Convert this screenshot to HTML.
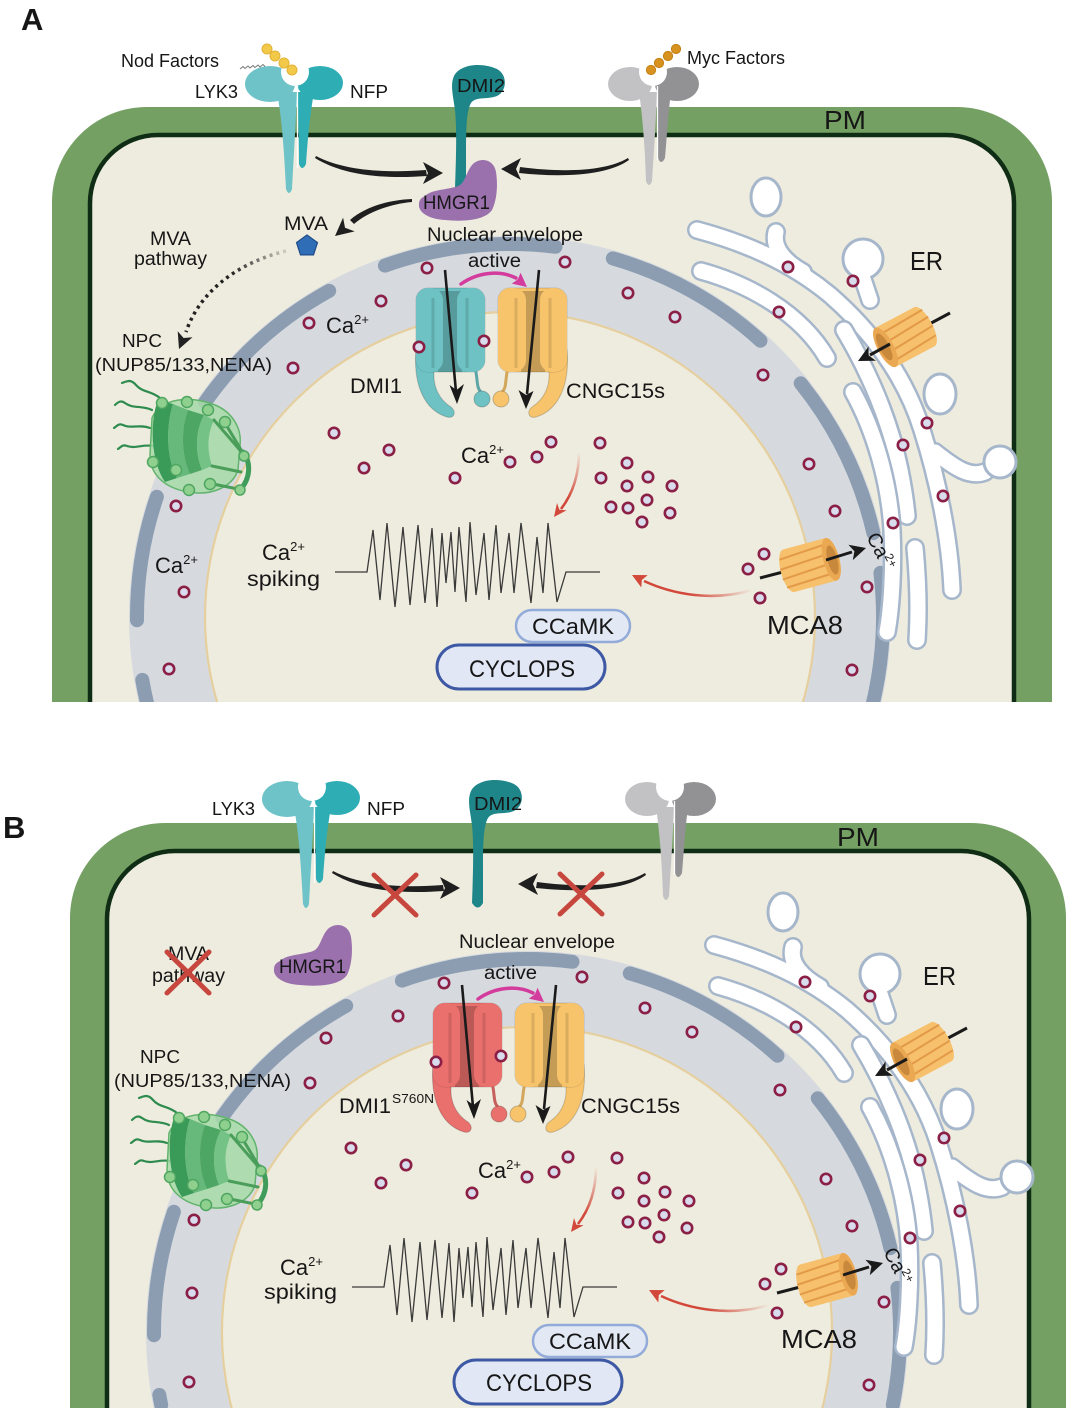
<!DOCTYPE html>
<html><head><meta charset="utf-8"><style>
html,body{margin:0;padding:0;background:#fff;width:1069px;height:1412px;overflow:hidden;}
svg{display:block;}
text{font-family:"Liberation Sans",Arial,sans-serif;fill:#161616;}
</style></head><body>
<svg width="1069" height="1412" viewBox="0 0 1069 1412" xmlns="http://www.w3.org/2000/svg" xmlns:xlink="http://www.w3.org/1999/xlink">
<defs>
 <clipPath id="clipA"><rect x="0" y="0" width="1069" height="702"/></clipPath>
 <clipPath id="clipB"><rect x="0" y="760" width="1069" height="648"/></clipPath>
 <linearGradient id="gr1" gradientUnits="userSpaceOnUse" x1="579" y1="452" x2="566" y2="498"><stop offset="0" stop-color="#d2483a" stop-opacity="0"/><stop offset="1" stop-color="#d2483a"/></linearGradient>
 <linearGradient id="gr2" gradientUnits="userSpaceOnUse" x1="752" y1="590" x2="690" y2="594"><stop offset="0" stop-color="#d2483a" stop-opacity="0"/><stop offset="1" stop-color="#d2483a"/></linearGradient>
 <linearGradient id="gdot" gradientUnits="userSpaceOnUse" x1="290" y1="250" x2="230" y2="268"><stop offset="0" stop-color="#222" stop-opacity="0.1"/><stop offset="1" stop-color="#222"/></linearGradient>

 <g id="chan">
  <path d="M416,350 C413,384 424,410 447,417 C454,419 457,412 451,407 C440,400 433,388 434,372 Z" fill="currentColor" stroke="#000" stroke-opacity=".18" stroke-width="1"/>
  <path d="M475,368 C478,378 476,388 481,392" fill="none" stroke="currentColor" stroke-width="3"/>
  <path d="M475,368 C478,378 476,388 481,392" fill="none" stroke="#000" stroke-opacity=".15" stroke-width="3"/>
  <circle cx="482" cy="399" r="8" fill="currentColor" stroke="#000" stroke-opacity=".2" stroke-width="1"/>
  <rect x="416" y="288" width="69" height="84" rx="12" fill="currentColor" stroke="#000" stroke-opacity=".15" stroke-width="1"/>
  <rect x="438" y="291" width="24" height="81" fill="#000" fill-opacity=".2"/>
  <rect x="416" y="288" width="27" height="84" rx="12" fill="currentColor"/>
  <rect x="457" y="288" width="28" height="84" rx="12" fill="currentColor"/>
  <path d="M433,298 V368 M467,298 V368" stroke="#000" stroke-opacity=".12" stroke-width="3"/>
 </g>

 <g id="mca">
  <path d="M-22,-22 H22 A8,22 0 0 1 22,22 H-22 A8,22 0 0 1 -22,-22 Z" fill="#f6c06c"/>
  <g stroke="#e39a48" stroke-width="2" fill="none">
   <path d="M-28,-13 L18,-16"/><path d="M-30,-3 L18,-6"/><path d="M-30,7 L18,4"/><path d="M-28,16 L18,14"/>
  </g>
  <ellipse cx="22" cy="0" rx="8" ry="22" fill="#eaa853"/>
  <ellipse cx="23" cy="1" rx="5" ry="15" fill="#c9893c"/>
 </g>

 <g id="nucA">
  <circle cx="510" cy="617" r="381" fill="#d6dadf"/>
  <circle cx="510" cy="617" r="305" fill="#eeecde" stroke="#e6cf9e" stroke-width="2.2"/>
  <g fill="none" stroke="#8c9db2" stroke-width="14" stroke-linecap="round">
   <path d="M384.9,265.6 A373,373 0 0 1 555.5,246.8"/>
   <path d="M612.8,258.4 A373,373 0 0 1 760.5,340.7"/>
   <path d="M800.7,383.3 A373,373 0 0 1 873.4,533.1"/>
   <path d="M880.4,572.8 A373,373 0 0 1 833.0,803.5"/>
   <path d="M205.2,402.0 A373,373 0 0 1 329.2,290.8"/>
   <path d="M137.0,620.2 A373,373 0 0 1 156.9,496.8"/>
   <path d="M246.3,880.7 A373,373 0 0 1 142.3,679.9"/>
  </g>
 </g>

 <g id="nucB">
  <path d="M137.5,697 A381,381 0 1 1 882.5,697 Z" fill="#d6dadf"/>
  <path d="M215.7,697 A305,305 0 1 1 804.3,697 Z" fill="#eeecde"/>
  <path d="M215.7,697 A305,305 0 1 1 804.3,697" fill="none" stroke="#e6cf9e" stroke-width="2.2"/>
  <g fill="none" stroke="#8c9db2" stroke-width="14" stroke-linecap="round">
   <path d="M384.9,265.6 A373,373 0 0 1 555.5,246.8"/>
   <path d="M612.8,258.4 A373,373 0 0 1 760.5,340.7"/>
   <path d="M800.7,383.3 A373,373 0 0 1 873.4,533.1"/>
   <path d="M880.4,572.8 A373,373 0 0 1 875.8,690"/>
   <path d="M205.2,402.0 A373,373 0 0 1 329.2,290.8"/>
   <path d="M137.0,620.2 A373,373 0 0 1 156.9,496.8"/>
   <path d="M144.2,690 A373,373 0 0 1 142.3,679.9"/>
  </g>
 </g>

 <g id="baseShared">
  <!-- ER -->
  <g fill="none" stroke-linecap="round" stroke-linejoin="round">
   <g stroke="#a6b6cb" stroke-width="20">
    <path d="M697,230 C745,243 790,262 830,295 C870,330 905,375 922,430 C938,480 950,540 952,590"/>
    <path d="M776,232 C772,248 785,262 803,272"/>
    <path d="M860,270 L870,300"/>
    <path d="M935,452 C955,468 970,478 985,472"/>
   </g>
   <circle cx="863" cy="259" r="20" fill="#fff" stroke="#a6b6cb" stroke-width="3"/>
   <g stroke="#fff" stroke-width="15">
    <path d="M697,230 C745,243 790,262 830,295 C870,330 905,375 922,430 C938,480 950,540 952,590"/>
    <path d="M776,232 C772,248 785,262 803,272"/>
    <path d="M860,270 L870,300"/>
    <path d="M935,452 C955,468 970,478 985,472"/>
   </g>
   <circle cx="863" cy="259" r="18" fill="#fff"/>
   <path d="M701,271 C748,284 800,312 827,358" stroke="#a6b6cb" stroke-width="20"/>
   <path d="M701,271 C748,284 800,312 827,358" stroke="#fff" stroke-width="15"/>
   <path d="M844,330 C868,370 890,420 900,470 C905,495 906,505 907,516" stroke="#a6b6cb" stroke-width="20"/>
   <path d="M844,330 C868,370 890,420 900,470 C905,495 906,505 907,516" stroke="#fff" stroke-width="15"/>
   <path d="M853,392 C874,430 889,480 892,530 C894,570 891,610 887,632" stroke="#a6b6cb" stroke-width="20"/>
   <path d="M853,392 C874,430 889,480 892,530 C894,570 891,610 887,632" stroke="#fff" stroke-width="15"/>
   <path d="M915,548 C918,580 919,610 917,640" stroke="#a6b6cb" stroke-width="20"/>
   <path d="M915,548 C918,580 919,610 917,640" stroke="#fff" stroke-width="15"/>
  </g>
  <ellipse cx="766" cy="197" rx="15" ry="19" fill="#fff" stroke="#a6b6cb" stroke-width="3"/>
  <ellipse cx="940" cy="394" rx="16" ry="20" fill="#fff" stroke="#a6b6cb" stroke-width="3"/>
  <circle cx="1000" cy="462" r="16" fill="#fff" stroke="#a6b6cb" stroke-width="3"/>

  <!-- NPC -->
  <g fill="none" stroke="#2e8b4e" stroke-width="2.2" stroke-linecap="round">
   <path d="M160,398 C150,390 143,393 136,385 C131,379 127,381 122,383"/>
   <path d="M152,410 C141,405 133,409 125,403 C121,400 118,402 115,405"/>
   <path d="M150,428 C139,424 131,429 123,425 C119,423 117,426 114,428"/>
   <path d="M153,446 C143,444 135,449 127,446 C123,444 121,447 118,449"/>
  </g>
  <path d="M152,418 C160,398 190,395 215,405 C232,412 242,428 240,445 L238,470 C232,488 210,496 188,492 C165,488 150,475 150,455 Z" fill="#a8daa8" fill-opacity=".85" stroke="#62b46c" stroke-width="1.5"/>
  <path d="M158,400 C150,420 150,460 165,482 L177,478 C166,458 166,425 173,404 Z" fill="#3a9a58"/>
  <path d="M173,404 C166,425 166,458 177,478 L190,474 C181,455 181,428 188,410 Z" fill="#66b97a"/>
  <path d="M188,410 C181,428 181,455 190,474 L202,470 C195,452 195,432 204,415 Z" fill="#4ea664"/>
  <path d="M204,415 C195,432 195,452 202,470 L212,466 C207,450 207,435 214,420 Z" fill="#74c285"/>
  <g stroke="#4a9e5a" stroke-width="3" stroke-linecap="round">
   <line x1="214" y1="420" x2="245" y2="456"/><line x1="225" y1="423" x2="246" y2="458"/>
   <line x1="212" y1="466" x2="241" y2="472"/><line x1="208" y1="483" x2="238" y2="489"/>
  </g>
  <path d="M243,452 C251,462 251,478 240,490" fill="none" stroke="#3f9c5a" stroke-width="5" stroke-linecap="round"/>
  <g fill="#8fd08f" stroke="#4fa660" stroke-width="1.5">
   <circle cx="162" cy="403" r="5.5"/><circle cx="187" cy="402" r="5.5"/><circle cx="208" cy="410" r="5.5"/><circle cx="225" cy="422" r="5.5"/>
   <circle cx="153" cy="462" r="5.5"/><circle cx="176" cy="470" r="5.5"/><circle cx="189" cy="490" r="5.5"/><circle cx="210" cy="484" r="5.5"/>
   <circle cx="244" cy="456" r="5"/><circle cx="240" cy="490" r="5"/>
  </g>

  <polyline fill="none" stroke="#3a3a3a" stroke-width="1.3" stroke-linejoin="miter" points="335,572 367,572 373,530 380,600 387,523 395,607 403,527 410,605 418,525 425,603 432,528 437,607 442,533 446,583 451,532 455,592 459,527 466,602 470,522 476,595 484,533 489,600 496,525 501,593 509,533 514,593 521,523 531,603 537,537 543,593 548,523 557,602 566,572 600,572"/>

  <path d="M579,452 C579,478 571,496 561,509" fill="none" stroke="url(#gr1)" stroke-width="2.6"/>
  <polygon points="554,517 557,503 559.4,509.8 566.6,510.2" fill="#d2483a"/>
  <path d="M752,590 C712,602 672,594 644,581" fill="none" stroke="url(#gr2)" stroke-width="2.6"/>
  <polygon points="632,575 647.7,575.1 641.8,580 641.3,587.5" fill="#d2483a"/>

  <rect x="516" y="610" width="114" height="32" rx="16" fill="#e3e8f5" stroke="#93abd9" stroke-width="2.5"/>
  <rect x="437" y="645" width="168" height="44" rx="22" fill="#e1e7f4" stroke="#3d58a4" stroke-width="3"/>

  <use xlink:href="#chan" href="#chan" style="color:#f7c46c" transform="translate(983,0) scale(-1,1)"/>
 </g>

 <g id="topShared">
  <line x1="445" y1="270" x2="456" y2="392" stroke="#1a1a1a" stroke-width="2.6"/>
  <polygon points="457,404 449.5,385 456.5,390 464,384" fill="#1a1a1a"/>
  <line x1="539" y1="270" x2="527" y2="394" stroke="#1a1a1a" stroke-width="2.6"/>
  <polygon points="526,409 518.5,390 526,395 533.5,391" fill="#1a1a1a"/>
  <path d="M461,284 C478,272 500,270 516,278" fill="none" stroke="#d33c9c" stroke-width="3.5" stroke-linecap="round"/>
  <polygon points="527,287 520.6,272.8 517.8,279.4 511.8,283.6" fill="#d33c9c"/>

  <line x1="760" y1="578" x2="810" y2="565" stroke="#1a1a1a" stroke-width="3"/>
  <use xlink:href="#mca" href="#mca" transform="translate(810,565) rotate(-15)"/>
  <line x1="826" y1="560" x2="852" y2="552" stroke="#1a1a1a" stroke-width="3"/>
  <polygon points="866,548 848.4,544.7 854.4,551.3 852.8,560.1" fill="#1a1a1a"/>
  <line x1="950" y1="313" x2="905" y2="337" stroke="#1a1a1a" stroke-width="3"/>
  <use xlink:href="#mca" href="#mca" transform="translate(905,337) rotate(152)"/>
  <line x1="890" y1="344" x2="870" y2="355" stroke="#1a1a1a" stroke-width="3"/>
  <polygon points="858,361 868.5,346.5 868.6,355.4 875.9,360.7" fill="#1a1a1a"/>

  <g fill="#d9dcec" stroke="#8b1f45" stroke-width="2.6">
   <circle cx="427" cy="268" r="5.2"/><circle cx="565" cy="262" r="5.2"/><circle cx="628" cy="293" r="5.2"/><circle cx="675" cy="317" r="5.2"/>
   <circle cx="381" cy="301" r="5.2"/><circle cx="309" cy="323" r="5.2"/><circle cx="293" cy="368" r="5.2"/>
   <circle cx="763" cy="375" r="5.2"/><circle cx="788" cy="267" r="5.2"/><circle cx="853" cy="281" r="5.2"/><circle cx="779" cy="312" r="5.2"/>
   <circle cx="903" cy="445" r="5.2"/><circle cx="927" cy="423" r="5.2"/><circle cx="943" cy="496" r="5.2"/><circle cx="893" cy="523" r="5.2"/>
   <circle cx="809" cy="464" r="5.2"/><circle cx="835" cy="511" r="5.2"/><circle cx="867" cy="587" r="5.2"/><circle cx="852" cy="670" r="5.2"/>
   <circle cx="764" cy="554" r="5.2"/><circle cx="748" cy="569" r="5.2"/><circle cx="760" cy="598" r="5.2"/>
   <circle cx="334" cy="433" r="5.2"/><circle cx="389" cy="450" r="5.2"/><circle cx="364" cy="468" r="5.2"/><circle cx="455" cy="478" r="5.2"/>
   <circle cx="510" cy="462" r="5.2"/><circle cx="537" cy="457" r="5.2"/><circle cx="551" cy="442" r="5.2"/><circle cx="600" cy="443" r="5.2"/>
   <circle cx="419" cy="347" r="5.2"/><circle cx="484" cy="341" r="5.2"/>
   <circle cx="627" cy="463" r="5.2"/><circle cx="601" cy="478" r="5.2"/><circle cx="627" cy="486" r="5.2"/><circle cx="648" cy="477" r="5.2"/>
   <circle cx="672" cy="486" r="5.2"/><circle cx="647" cy="500" r="5.2"/><circle cx="611" cy="507" r="5.2"/><circle cx="628" cy="508" r="5.2"/>
   <circle cx="670" cy="513" r="5.2"/><circle cx="642" cy="522" r="5.2"/>
  </g>

  <ellipse cx="270" cy="84" rx="25" ry="18" fill="#6dc3c7"/>
  <path d="M277,92 L297,92 C296,120 294,150 292,189 Q289,197 286,189 C284,150 282,120 277,92 Z" fill="#6dc3c7"/>
  <ellipse cx="320" cy="83" rx="23" ry="17" fill="#2eadb5"/>
  <path d="M297,92 L314,92 C310,115 308,135 306,164 Q302,172 299,164 C299,135 298,115 297,92 Z" fill="#2eadb5"/>
  <circle cx="295" cy="72" r="14" fill="#fff"/>
  <line x1="297.5" y1="86" x2="297.5" y2="168" stroke="#fff" stroke-width="1.3"/>

  <ellipse cx="630" cy="84" rx="22" ry="17" fill="#c2c2c4"/>
  <path d="M639,92 L657,92 C656,120 654,150 652,181 Q649,189 646,181 C645,150 643,120 639,92 Z" fill="#c2c2c4"/>
  <ellipse cx="677" cy="84" rx="22" ry="17" fill="#929294"/>
  <path d="M657,92 L671,92 C668,115 667,135 665,158 Q661,166 658,158 C658,135 658,115 657,92 Z" fill="#929294"/>
  <circle cx="653" cy="72" r="14" fill="#fff"/>
  <line x1="657.5" y1="86" x2="657.5" y2="160" stroke="#fff" stroke-width="1.3"/>

  <path d="M455,188 C456,160 457,130 455,110 C453,95 450,85 454,76 C460,64 482,62 497,69 C508,75 507,91 497,96 C487,100 476,96 471,103 C467,110 466,125 466,150 L466,188 Q461,197 455,188 Z" fill="#1e8689"/>

  <path d="M316,156 C345,171 385,173 426,170 L427,176 C385,179 344,176 315,158 Z" fill="#1f1f1f"/>
  <polygon points="443,173 423,162 428,173 423,184" fill="#1f1f1f"/>
  <path d="M628,158 C606,171 565,173 520,167 L519,173 C565,178 608,175 629,160 Z" fill="#1f1f1f"/>
  <polygon points="501,169 521,158 516,169 521,180" fill="#1f1f1f"/>
 </g>
</defs>

<rect width="1069" height="1412" fill="#fff"/>

<!-- ============ PANEL A ============ -->
<g clip-path="url(#clipA)">
 <path d="M52,760 V202 A95,95 0 0 1 147,107 H957 A95,95 0 0 1 1052,202 V760 Z" fill="#74a063"/>
 <path d="M90,760 V203 A68,68 0 0 1 158,135 H946 A68,68 0 0 1 1014,203 V760 Z" fill="#eeecde" stroke="#0f2d14" stroke-width="4.5"/>
 <use xlink:href="#nucA" href="#nucA"/>
 <use xlink:href="#baseShared" href="#baseShared"/>
 <use xlink:href="#chan" href="#chan" style="color:#6ec2c3"/>
 <use xlink:href="#topShared" href="#topShared"/>
 <g fill="#d9dcec" stroke="#8b1f45" stroke-width="2.6">
  <circle cx="176" cy="506" r="5.2"/><circle cx="184" cy="592" r="5.2"/><circle cx="169" cy="669" r="5.2"/>
 </g>
 <path d="M425,196 C432,189 448,190 458,186 C466,183 466,170 474,163 C482,157 494,160 496,172 C498,185 497,200 492,210 C485,220 465,222 445,220 C428,219 418,212 419,204 C419,200 421,198 425,196 Z" fill="#9a70ad"/>
 <path d="M240,69 l3,-2.5 l2,2 l3,-2.5 l2,2 l3,-2.5 l2,2 l3,-2.5 l2,2 l3,-2.5 l2,2" fill="none" stroke="#777" stroke-width="1"/>
 <g fill="#f3c94a" stroke="#e2b335" stroke-width="1">
  <circle cx="267" cy="49" r="5"/><circle cx="275" cy="56" r="5"/><circle cx="284" cy="63" r="5"/><circle cx="292" cy="70" r="5"/>
 </g>
 <g fill="#d8921e" stroke="#c47f12" stroke-width="1">
  <circle cx="651" cy="70" r="4.6"/><circle cx="659" cy="63" r="4.6"/><circle cx="668" cy="56" r="4.6"/><circle cx="676" cy="49" r="4.6"/>
 </g>
 <path d="M412,199 C388,200 365,207 350,220 L354,224 C368,212 390,204 412,202 Z" fill="#1f1f1f"/>
 <polygon points="335,236 343.1,217.6 345,227.7 354.7,231.4" fill="#1f1f1f"/>
 <polygon points="307,235 317.5,242.6 313.5,254.9 300.5,254.9 296.5,242.6" fill="#2f6db6" stroke="#1f4d8a" stroke-width="1.2"/>
 <path d="M286,251 C240,262 200,290 186,332" fill="none" stroke="url(#gdot)" stroke-width="3.5" stroke-dasharray="3 4"/>
 <polygon points="179,349 177.7,331.3 183.6,338 192.5,337.3" fill="#222"/>
</g>

<text x="21" y="30" font-size="31" font-weight="bold">A</text>
<text x="121" y="67" font-size="18" textLength="98" lengthAdjust="spacingAndGlyphs">Nod Factors</text>
<text x="195" y="98" font-size="18.5" textLength="43" lengthAdjust="spacingAndGlyphs">LYK3</text>
<text x="350" y="98" font-size="18.5" textLength="38" lengthAdjust="spacingAndGlyphs">NFP</text>
<text x="457" y="92" font-size="18.5" textLength="48" lengthAdjust="spacingAndGlyphs">DMI2</text>
<text x="687" y="64" font-size="18" textLength="98" lengthAdjust="spacingAndGlyphs">Myc Factors</text>
<text x="824" y="129" font-size="26" textLength="42" lengthAdjust="spacingAndGlyphs">PM</text>
<text x="423" y="209" font-size="19.5" textLength="67" lengthAdjust="spacingAndGlyphs">HMGR1</text>
<text x="284" y="230" font-size="19.5" textLength="44" lengthAdjust="spacingAndGlyphs">MVA</text>
<text x="150" y="245" font-size="19" textLength="41" lengthAdjust="spacingAndGlyphs">MVA</text>
<text x="134" y="265" font-size="19" textLength="73" lengthAdjust="spacingAndGlyphs">pathway</text>
<text x="427" y="241" font-size="19" textLength="156" lengthAdjust="spacingAndGlyphs">Nuclear envelope</text>
<text x="468" y="267" font-size="19" textLength="53" lengthAdjust="spacingAndGlyphs">active</text>
<text x="122" y="347" font-size="18.5" textLength="40" lengthAdjust="spacingAndGlyphs">NPC</text>
<text x="95" y="371" font-size="18.5" textLength="177" lengthAdjust="spacingAndGlyphs">(NUP85/133,NENA)</text>
<text x="326" y="333" font-size="22">Ca<tspan font-size="13" dy="-9">2+</tspan></text>
<text x="350" y="393" font-size="21" textLength="52" lengthAdjust="spacingAndGlyphs">DMI1</text>
<text x="566" y="398" font-size="21" textLength="99" lengthAdjust="spacingAndGlyphs">CNGC15s</text>
<text x="461" y="463" font-size="22">Ca<tspan font-size="13" dy="-9">2+</tspan></text>
<text x="155" y="573" font-size="22">Ca<tspan font-size="13" dy="-9">2+</tspan></text>
<text x="262" y="560" font-size="22">Ca<tspan font-size="13" dy="-9">2+</tspan></text>
<text x="247" y="586" font-size="21" textLength="73" lengthAdjust="spacingAndGlyphs">spiking</text>
<text x="910" y="270" font-size="26" textLength="33" lengthAdjust="spacingAndGlyphs">ER</text>
<text x="767" y="634" font-size="26" textLength="76" lengthAdjust="spacingAndGlyphs">MCA8</text>
<text x="532" y="634" font-size="22" textLength="82" lengthAdjust="spacingAndGlyphs">CCaMK</text>
<text x="469" y="677" font-size="24" textLength="106" lengthAdjust="spacingAndGlyphs">CYCLOPS</text>
<text transform="translate(866,537) rotate(62)" font-size="20">Ca<tspan font-size="12" dy="-7">2+</tspan></text>

<!-- ============ PANEL B ============ -->
<g clip-path="url(#clipB)">
 <path d="M70,1410 V918 A95,95 0 0 1 165,823 H971 A95,95 0 0 1 1066,918 V1410 Z" fill="#74a063"/>
 <path d="M107,1410 V919 A68,68 0 0 1 175,851 H961 A68,68 0 0 1 1029,919 V1410 Z" fill="#eeecde"/>
 <path d="M107,1410 V919 A68,68 0 0 1 175,851 H961 A68,68 0 0 1 1029,919 V1410" fill="none" stroke="#0f2d14" stroke-width="4.5"/>
 <g transform="translate(17,715)">
  <use xlink:href="#nucB" href="#nucB"/>
  <use xlink:href="#baseShared" href="#baseShared"/>
  <use xlink:href="#chan" href="#chan" style="color:#ea706d"/>
  <use xlink:href="#topShared" href="#topShared"/>
 </g>
 <g fill="#d9dcec" stroke="#8b1f45" stroke-width="2.6">
  <circle cx="194" cy="1220" r="5.2"/><circle cx="192" cy="1293" r="5.2"/><circle cx="189" cy="1382" r="5.2"/>
 </g>
 <path transform="translate(-145,765)" d="M425,196 C432,189 448,190 458,186 C466,183 466,170 474,163 C482,157 494,160 496,172 C498,185 497,200 492,210 C485,220 465,222 445,220 C428,219 418,212 419,204 C419,200 421,198 425,196 Z" fill="#9a70ad"/>
</g>

<text x="3" y="838" font-size="31" font-weight="bold">B</text>
<text x="212" y="815" font-size="18.5" textLength="43" lengthAdjust="spacingAndGlyphs">LYK3</text>
<text x="367" y="815" font-size="18.5" textLength="38" lengthAdjust="spacingAndGlyphs">NFP</text>
<text x="474" y="810" font-size="18.5" textLength="48" lengthAdjust="spacingAndGlyphs">DMI2</text>
<text x="837" y="846" font-size="26" textLength="42" lengthAdjust="spacingAndGlyphs">PM</text>
<text x="279" y="973" font-size="19.5" textLength="67" lengthAdjust="spacingAndGlyphs">HMGR1</text>
<text x="168" y="960" font-size="19" textLength="41" lengthAdjust="spacingAndGlyphs">MVA</text>
<text x="152" y="982" font-size="19" textLength="73" lengthAdjust="spacingAndGlyphs">pathway</text>
<text x="459" y="948" font-size="19" textLength="156" lengthAdjust="spacingAndGlyphs">Nuclear envelope</text>
<text x="484" y="979" font-size="19" textLength="53" lengthAdjust="spacingAndGlyphs">active</text>
<text x="140" y="1063" font-size="18.5" textLength="40" lengthAdjust="spacingAndGlyphs">NPC</text>
<text x="114" y="1087" font-size="18.5" textLength="177" lengthAdjust="spacingAndGlyphs">(NUP85/133,NENA)</text>
<text x="339" y="1113" font-size="21" textLength="52" lengthAdjust="spacingAndGlyphs">DMI1</text>
<text x="392" y="1103" font-size="13" textLength="42" lengthAdjust="spacingAndGlyphs">S760N</text>
<text x="581" y="1113" font-size="21" textLength="99" lengthAdjust="spacingAndGlyphs">CNGC15s</text>
<text x="478" y="1178" font-size="22">Ca<tspan font-size="13" dy="-9">2+</tspan></text>
<text x="280" y="1275" font-size="22">Ca<tspan font-size="13" dy="-9">2+</tspan></text>
<text x="264" y="1299" font-size="21" textLength="73" lengthAdjust="spacingAndGlyphs">spiking</text>
<text x="923" y="985" font-size="26" textLength="33" lengthAdjust="spacingAndGlyphs">ER</text>
<text x="781" y="1348" font-size="26" textLength="76" lengthAdjust="spacingAndGlyphs">MCA8</text>
<text x="549" y="1349" font-size="22" textLength="82" lengthAdjust="spacingAndGlyphs">CCaMK</text>
<text x="486" y="1391" font-size="24" textLength="106" lengthAdjust="spacingAndGlyphs">CYCLOPS</text>
<text transform="translate(883,1252) rotate(62)" font-size="20">Ca<tspan font-size="12" dy="-7">2+</tspan></text>

<g stroke="#c7463e" stroke-width="5" stroke-linecap="round">
 <line x1="374" y1="875" x2="416" y2="915"/><line x1="416" y1="875" x2="374" y2="915"/>
 <line x1="560" y1="874" x2="602" y2="914"/><line x1="602" y1="874" x2="560" y2="914"/>
 <line x1="167" y1="952" x2="209" y2="993"/><line x1="209" y1="952" x2="167" y2="993"/>
</g>
</svg>
</body></html>
